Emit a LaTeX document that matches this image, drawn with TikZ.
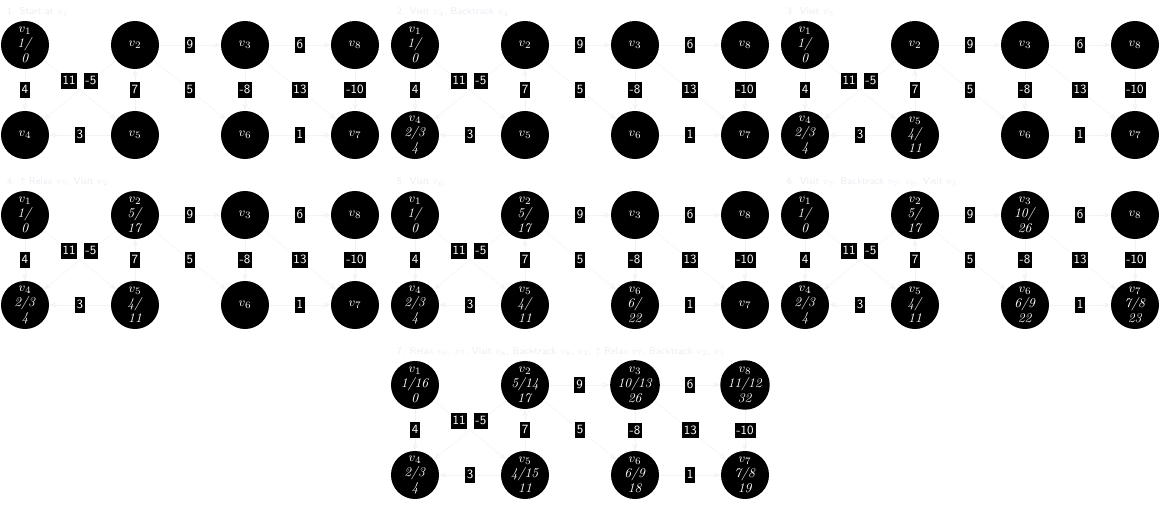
\documentclass[tikz,border=0pt]{standalone}
\usepackage{tikz}
\usetikzlibrary{arrows.meta}
\definecolor{edgec}{RGB}{240,243,251}
\definecolor{titlec}{RGB}{234,236,248}
\def\st#1#2#3{$v_{#1}$\\\textit{#2}\\\textit{#3}}
\tikzset{
  vtx/.style={circle,fill=black,text=white,minimum size=1.2cm,inner sep=0pt,
    align=center,font=\fontsize{9.5}{10.6}\selectfont},
  wlab/.style={fill=black,text=white,inner sep=1.3pt,text height=7pt,text depth=1.5pt,
    font=\sffamily\small},
  edg/.style={draw=edgec,-{Stealth[length=5pt]}},
  ttl/.style={anchor=west,text=titlec,font=\sffamily\fontsize{7}{8}\selectfont}
}
\def\edges{
  \draw[edg] (v1) -- node[wlab]{4} (v4);
  \draw[edg] (v1) -- node[wlab,pos=.35]{11} (v5);
  \draw[edg] (v2) -- node[wlab,pos=.35]{-5} (v4);
  \draw[edg] (v5) -- node[wlab]{7} (v2);
  \draw[edg] (v5) -- node[wlab]{3} (v4);
  \draw[edg] (v2) -- node[wlab]{9} (v3);
  \draw[edg] (v2) -- node[wlab]{5} (v6);
  \draw[edg] (v3) -- node[wlab]{6} (v8);
  \draw[edg] (v3) -- node[wlab]{-8} (v6);
  \draw[edg] (v3) -- node[wlab]{13} (v7);
  \draw[edg] (v8) -- node[wlab]{-10} (v7);
  \draw[edg] (v6) -- node[wlab]{1} (v7);
}
\newcommand\panel[8]{
  \node[vtx] (v1) at (25,45) {#1};
  \node[vtx] (v2) at (135,45) {#2};
  \node[vtx] (v3) at (245,45) {#3};
  \node[vtx] (v8) at (355,45) {#4};
  \node[vtx] (v4) at (25,135) {#5};
  \node[vtx] (v5) at (135,135) {#6};
  \node[vtx] (v6) at (245,135) {#7};
  \node[vtx] (v7) at (355,135) {#8};
  \edges
}
\begin{document}
\begin{tikzpicture}[x=0.025cm,y=-0.025cm]
  \useasboundingbox (0,0) rectangle (1173,512);
  % row 1
  \begin{scope}[name prefix=a-]
    \node[ttl] (t) at (2,12) {1. Start at $v_1$};
    \panel{\st{1}{1/}{0}}{$v_2$}{$v_3$}{$v_8$}{$v_4$}{$v_5$}{$v_6$}{$v_7$}
  \end{scope}
  \begin{scope}[shift={(390,0)},name prefix=b-]
    \node[ttl] (t) at (2,12) {2. Visit $v_4$, Backtrack $v_4$};
    \panel{\st{1}{1/}{0}}{$v_2$}{$v_3$}{$v_8$}{\st{4}{2/3}{4}}{$v_5$}{$v_6$}{$v_7$}
  \end{scope}
  \begin{scope}[shift={(780,0)},name prefix=c-]
    \node[ttl] (t) at (2,12) {3. Visit $v_5$};
    \panel{\st{1}{1/}{0}}{$v_2$}{$v_3$}{$v_8$}{\st{4}{2/3}{4}}{\st{5}{4/}{11}}{$v_6$}{$v_7$}
  \end{scope}
  % row 2
  \begin{scope}[shift={(0,170)},name prefix=d-]
    \node[ttl] (t) at (2,12) {4. $\uparrow$ Relax $v_5$, Visit $v_2$};
    \panel{\st{1}{1/}{0}}{\st{2}{5/}{17}}{$v_3$}{$v_8$}{\st{4}{2/3}{4}}{\st{5}{4/}{11}}{$v_6$}{$v_7$}
  \end{scope}
  \begin{scope}[shift={(390,170)},name prefix=e-]
    \node[ttl] (t) at (2,12) {5. Visit $v_6$};
    \panel{\st{1}{1/}{0}}{\st{2}{5/}{17}}{$v_3$}{$v_8$}{\st{4}{2/3}{4}}{\st{5}{4/}{11}}{\st{6}{6/}{22}}{$v_7$}
  \end{scope}
  \begin{scope}[shift={(780,170)},name prefix=f-]
    \node[ttl] (t) at (2,12) {6. Visit $v_7$, Backtrack $v_7$, $v_6$, Visit $v_3$};
    \panel{\st{1}{1/}{0}}{\st{2}{5/}{17}}{\st{3}{10/}{26}}{$v_8$}{\st{4}{2/3}{4}}{\st{5}{4/}{11}}{\st{6}{6/9}{22}}{\st{7}{7/8}{23}}
  \end{scope}
  % row 3
  \begin{scope}[shift={(390,340)},name prefix=g-]
    \node[ttl] (t) at (2,12) {7. Relax $v_6$, $v_7$; Visit $v_8$, Backtrack $v_8$, $v_3$; $\uparrow$ Relax $v_7$, Backtrack $v_2$, $v_1$};
    \panel{\st{1}{1/16}{0}}{\st{2}{5/14}{17}}{\st{3}{10/13}{26}}{\st{8}{11/12}{32}}{\st{4}{2/3}{4}}{\st{5}{4/15}{11}}{\st{6}{6/9}{18}}{\st{7}{7/8}{19}}
  \end{scope}
\end{tikzpicture}
\end{document}
